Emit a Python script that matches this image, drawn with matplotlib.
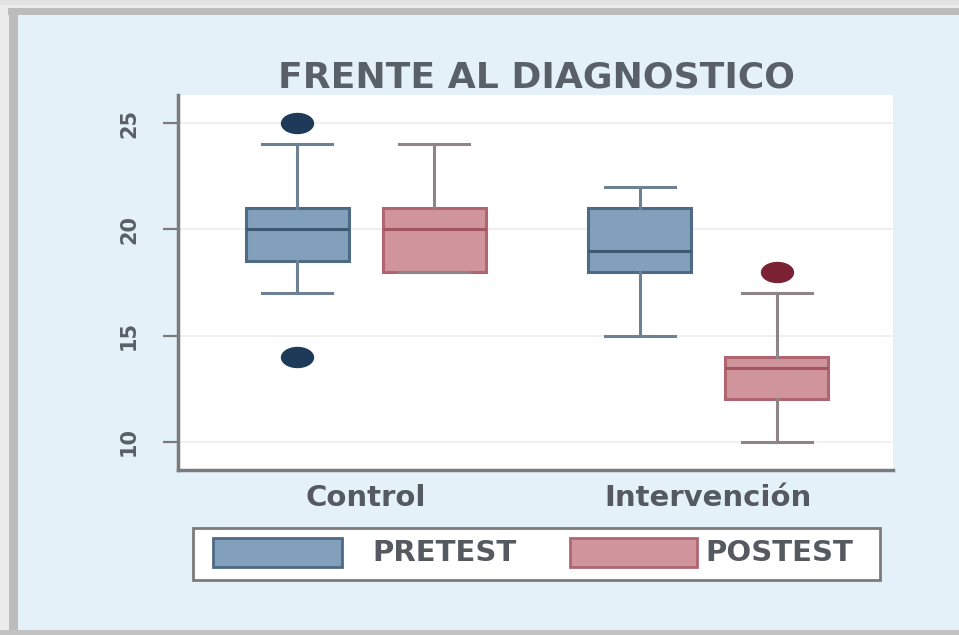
import matplotlib
matplotlib.use("Agg")
import matplotlib.pyplot as plt
from matplotlib.patches import Rectangle
from matplotlib.path import Path
from matplotlib.transforms import Affine2D

# ---- data ----
groups = ["Control", "Intervención"]
series = ["PRETEST", "POSTEST"]
q1 = [18.5, 18, 18, 12]
med = [20, 20, 19, 13.5]
q3 = [21, 21, 21, 14]
whislo = [17, 18, 15, 10]
whishi = [24, 24, 22, 17]
fliers = [[25, 14], [], [], [18]]
yticks = [10, 15, 20, 25]
title = "FRENTE AL DIAGNOSTICO"

W, H = 959, 635
fig = plt.figure(figsize=(W / 100, H / 100), dpi=100)
fig.patch.set_facecolor("#ececec")

def frect(x0, y0, x1, y1, color, z=0):
    # pixel coords (top-left origin) -> figure fraction
    fig.patches.append(Rectangle((x0 / W, 1 - y1 / H), (x1 - x0) / W, (y1 - y0) / H,
                                 transform=fig.transFigure, facecolor=color,
                                 edgecolor="none", zorder=z))

# frame / shadow
frect(0, 0, W, 5, "#e2e2e2")
frect(8, 8, W, 15, "#bcbcbc")
frect(9, 8, 18, H, "#bcbcbc")
frect(18, 15, W, 630, "#e4f1f8", 1)
frect(0, 630, W, H, "#c2c2c2", 1)

# axes
left, right, top, bottom = 178, 893, 95, 470
ax = fig.add_axes([left / W, 1 - bottom / H, (right - left) / W, (bottom - top) / H])
ax.set_zorder(5)
ax.set_facecolor("white")

pre_fill, pre_edge, pre_med, pre_whisk, pre_out = "#829fbb", "#4f6a84", "#3d5871", "#6d8192", "#1d3b58"
post_fill, post_edge, post_med, post_whisk, post_out = "#d0959c", "#b06671", "#a45560", "#8f8588", "#7a2233"

ellipse = Path.unit_circle().transformed(Affine2D().scale(1.6, 1.0))

positions = [1, 2, 3.5, 4.5]
stats = []
for i in range(4):
    stats.append(dict(med=med[i], q1=q1[i], q3=q3[i], whislo=whislo[i],
                      whishi=whishi[i], fliers=fliers[i]))

for i, st in enumerate(stats):
    pre = (i % 2 == 0)
    fc = pre_fill if pre else post_fill
    ec = pre_edge if pre else post_edge
    mc = pre_med if pre else post_med
    wc = pre_whisk if pre else post_whisk
    oc = pre_out if pre else post_out
    ax.bxp([st], positions=[positions[i]], widths=0.75, capwidths=0.51,
           patch_artist=True, showfliers=True,
           boxprops=dict(facecolor=fc, edgecolor=ec, linewidth=2.2),
           medianprops=dict(color=mc, linewidth=2.2),
           whiskerprops=dict(color=wc, linewidth=2.2),
           capprops=dict(color=wc, linewidth=2.2),
           flierprops=dict(marker=ellipse, markerfacecolor=oc, markeredgecolor=oc,
                           markersize=23))

ax.set_xlim(0.131, 5.347)
ax.set_ylim(8.68, 26.32)
ax.set_yticks(yticks)
ax.set_yticklabels([str(t) for t in yticks], rotation=90, va="center",
                   fontsize=15, fontweight="bold", color="#5a5f66")
ax.set_xticks([1.5, 4.0])
ax.set_xticklabels(groups, fontsize=21, color="#555a60", fontweight="bold")
ax.tick_params(axis="x", length=0, pad=10)
ax.tick_params(axis="y", length=11, width=1.6, color="#7b7b7b", pad=17)
ax.yaxis.grid(True, color="#eeeeee", linewidth=1.2)
ax.set_axisbelow(True)
for s in ["top", "right"]:
    ax.spines[s].set_visible(False)
for s in ["left", "bottom"]:
    ax.spines[s].set_color("#7b7b7b")
    ax.spines[s].set_linewidth(2.5)

fig.text(537 / W, 1 - 77 / H, title, ha="center", va="center", fontsize=26,
         fontweight="bold", color="#5a6068", zorder=4)

# legend (manual)
frect(193, 528, 880, 580, "white", 2)
fig.patches.append(Rectangle((193 / W, 1 - 580 / H), (880 - 193) / W, 52 / H,
                             transform=fig.transFigure, facecolor="none",
                             edgecolor="#7b7b7b", linewidth=2, zorder=3))
for (x0, x1, fc, ec, tx, lab) in [(213, 342, pre_fill, pre_edge, 372, series[0]),
                                  (570, 697, post_fill, post_edge, 705, series[1])]:
    fig.patches.append(Rectangle((x0 / W, 1 - 567 / H), (x1 - x0) / W, 29 / H,
                                 transform=fig.transFigure, facecolor=fc,
                                 edgecolor=ec, linewidth=2, zorder=3))
    fig.text(tx / W, 1 - 553 / H, lab, ha="left", va="center", fontsize=21,
             fontweight="bold", color="#555a60", zorder=4)

fig.savefig("out.png", dpi=100)
